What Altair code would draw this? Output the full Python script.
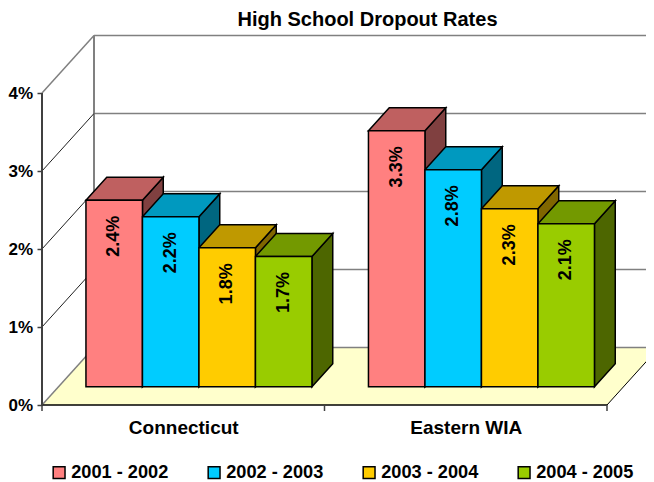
import altair as alt
import pandas as pd

categories = ["Connecticut", "Eastern WIA"]
series = ["2001 - 2002", "2002 - 2003", "2003 - 2004", "2004 - 2005"]
values_connecticut = [2.39, 2.18, 1.78, 1.67]
values_eastern = [3.28, 2.78, 2.28, 2.09]
colors_front = ["#FF8080", "#00CCFF", "#FFCC00", "#99CC00"]
colors_top = ["#BF6060", "#0099BF", "#BF9900", "#739900"]
colors_side = ["#804040", "#006680", "#806600", "#4D6600"]
pct_ticks = [0, 1, 2, 3, 4]

FONT = "Liberation Sans"
DX, DY = 52 / 282.5, 57.5 / 78      # oblique offset of the full chart depth
FRONT, BACK = 18.3 / 57.5, 41.3 / 57.5   # bar depth position
BAR, GAP = 0.2, 0.097
W, H = 604, 369
X_MAX, Y_MAX = W / 282.5, H / 78


def px(x, d):
    return x + d * DX


def py(y, d):
    return y + d * DY


fronts, sides, tops, labels = [], [], [], []
for c, (cat, vals) in enumerate(zip(categories, [values_connecticut, values_eastern])):
    for i, v in enumerate(vals):
        x0 = c + GAP + BAR * i
        x1 = x0 + BAR
        bid = f"{c}-{i}"
        fronts.append(dict(series=series[i], x=px(x0, FRONT), x2=px(x1, FRONT),
                           y=py(0, FRONT), y2=py(v, FRONT)))
        for d in (FRONT, BACK):
            sides.append(dict(id=bid, col=colors_side[i], x=px(x1, d), y=py(0, d), y2=py(v, d)))
            tops.append(dict(id=bid, col=colors_top[i], y=py(v, d), x=px(x0, d), x2=px(x1, d)))
        labels.append(dict(x=px((x0 + x1) / 2, FRONT), y=py(v, FRONT) - 36 / 78,
                           t=f"{v:.1f}%"))

X = alt.Scale(domain=[0, X_MAX], nice=False, zero=False)
Y = alt.Scale(domain=[0, Y_MAX], nice=False, zero=False)
x_enc = alt.X("x:Q", scale=X, title=None,
              axis=alt.Axis(values=[0.5, 1.5], ticks=False, domain=False, grid=False,
                            labelExpr=f"datum.value < 1 ? '{categories[0]}' : '{categories[1]}'",
                            labelFont=FONT, labelFontWeight="bold", labelFontSize=19,
                            labelColor="black", labelPadding=13, labelFlush=False,
                            labelOverlap=False))
y_enc = alt.Y("y:Q", scale=Y, title=None,
              axis=alt.Axis(values=pct_ticks, grid=False, domain=False, tickSize=5,
                            tickColor="#404040", tickWidth=1.5,
                            labelExpr="datum.value + '%'", labelFont=FONT,
                            labelFontWeight="bold", labelFontSize=17, labelColor="black",
                            labelPadding=4.5, labelOverlap=False, labelFlush=False))
xq = alt.X("x:Q", scale=X, title=None)
yq = alt.Y("y:Q", scale=Y, title=None)

floor = alt.Chart(pd.DataFrame([
    dict(y=py(0, 0), x=px(0, 0), x2=px(2, 0)),
    dict(y=py(0, 1), x=px(0, 1), x2=px(2, 1)),
])).mark_area(orient="horizontal", fill="#FFFFCC").encode(x=x_enc, x2="x2:Q", y=y_enc)


def seg(rows, color, width):
    return alt.Chart(pd.DataFrame(rows)).mark_rule(color=color, strokeWidth=width).encode(
        x=xq, x2="x2:Q", y=yq, y2="y2:Q")


back_grid = seg([dict(x=px(0, 1), x2=px(2, 1) + 0.05, y=py(p, 1), y2=py(p, 1)) for p in pct_ticks],
                "#808080", 1.5)
back_edge = seg([dict(x=px(0, 1), x2=px(0, 1), y=py(0, 1), y2=py(4, 1))], "#808080", 2)
wall_dark = seg([dict(x=px(0, 0), x2=px(0, 1), y=py(p, 0), y2=py(p, 1)) for p in [1, 2, 3]],
                "#202020", 1)
wall_gray = seg([dict(x=px(0, 0), x2=px(0, 1), y=py(p, 0), y2=py(p, 1)) for p in [0, 4]],
                "#808080", 1.5)
floor_front = seg([dict(x=px(0, 0), x2=px(2, 0), y=py(0, 0), y2=py(0, 0))], "black", 1.5)
floor_right = seg([dict(x=px(2, 0), x2=px(2, 1), y=py(0, 0), y2=py(0, 1))], "black", 1)
y_line = seg([dict(x=0, x2=0, y=0, y2=4)], "#404040", 2)
x_ticks = alt.Chart(pd.DataFrame({"x": [0, 1, 2]})).mark_rule(color="#404040", strokeWidth=1.5).encode(
    x=xq, y=alt.value(H), y2=alt.value(H + 6))

side_layer = alt.Chart(pd.DataFrame(sides)).mark_area(
    orient="vertical", stroke="black", strokeWidth=1.5, strokeJoin="miter").encode(
    x=xq, y=yq, y2="y2:Q", detail="id:N",
    fill=alt.Fill("col:N", scale=None))
top_layer = alt.Chart(pd.DataFrame(tops)).mark_area(
    orient="horizontal", stroke="black", strokeWidth=1.5, strokeJoin="miter").encode(
    y=yq, x=xq, x2="x2:Q", detail="id:N",
    fill=alt.Fill("col:N", scale=None))
front_layer = alt.Chart(pd.DataFrame(fronts)).mark_rect(stroke="black", strokeWidth=1.5).encode(
    x=xq, x2="x2:Q", y=yq, y2="y2:Q",
    color=alt.Color("series:N", scale=alt.Scale(domain=series, range=colors_front),
                    legend=alt.Legend(title=None, orient="none", direction="horizontal",
                                      legendX=8, legendY=427, columns=4, columnPadding=36,
                                      symbolType="square", symbolSize=140,
                                      symbolStrokeColor="black", symbolStrokeWidth=1.5,
                                      symbolOpacity=1, labelFont=FONT, labelFontWeight="bold",
                                      labelFontSize=18.2, labelColor="black", labelOffset=3,
                                      labelLimit=200, padding=0)))
label_layer = alt.Chart(pd.DataFrame(labels)).mark_text(
    angle=270, align="center", baseline="middle", font=FONT, fontWeight="bold",
    fontSize=18, color="black").encode(x=xq, y=yq, text="t:N")

chart = alt.layer(
    floor, back_grid, back_edge, wall_dark, wall_gray, floor_front, floor_right,
    y_line, x_ticks, side_layer, top_layer, front_layer, label_layer
).properties(
    width=W, height=H,
    autosize=alt.AutoSizeParams(type="none"),
    padding={"left": 34, "top": 28, "right": 0, "bottom": 78},
    title=alt.TitleParams("High School Dropout Rates", font=FONT, fontWeight="bold",
                          fontSize=20, color="black", anchor="middle", dx=23.5, offset=5),
    background="white",
).configure_view(stroke=None)

chart.save("out.html", embed_options={"renderer": "svg", "actions": False})
